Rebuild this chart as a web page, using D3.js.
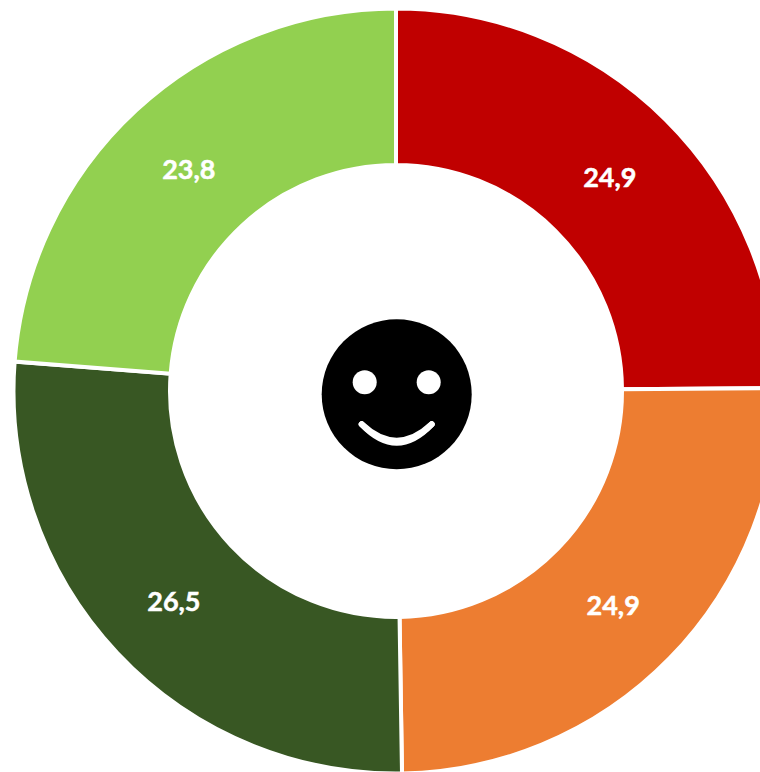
<!DOCTYPE html>
<html><head><meta charset="utf-8">
<script src="https://cdnjs.cloudflare.com/ajax/libs/d3/7.8.5/d3.min.js"></script>
<style>html,body{margin:0;padding:0;background:#fff;overflow:hidden}svg{display:block}</style>
</head><body><svg id="c" width="760" height="772"></svg>
<script>
const labels = ["24,9","24,9","26,5","23,8"];
const values = [24.9,24.9,26.5,23.8];
const colors = ["#C00000","#ED7D31","#385723","#92D050"];
const svg = d3.select("#c");
const cx=396, cy=391, ro=382.5, ri=226;
const g = svg.append("g").attr("transform",`translate(${cx},${cy})`);
const pie = d3.pie().sort(null).value(d=>d)(values);
const arc = d3.arc().innerRadius(ri).outerRadius(ro);
g.selectAll("path").data(pie).join("path")
 .attr("d",arc).attr("fill",(d,i)=>colors[i]).attr("stroke","#fff").attr("stroke-width",4);
g.selectAll("text").data(pie).join("text")
 .attr("transform",d=>{const c=arc.centroid(d);return `translate(${c[0]-0.5},${c[1]+1})`;})
 .attr("text-anchor","middle").attr("dominant-baseline","central")
 .attr("fill","#fff").attr("stroke","#fff").attr("stroke-width",0.5)
 .attr("font-family","Lato, sans-serif").attr("font-weight",700).attr("font-size",27)
 .text((d,i)=>labels[i]);
const f = svg.append("g").attr("transform",`translate(396.7,394.3)`);
f.append("circle").attr("r",75).attr("fill","#000");
f.append("circle").attr("cx",-32).attr("cy",-12).attr("r",12).attr("fill","#fff");
f.append("circle").attr("cx",32).attr("cy",-12).attr("r",12).attr("fill","#fff");
f.selectAll("path.smile").data([63,67]).join("path").attr("class","smile")
 .attr("d",d=>`M-35,30 Q0,${d} 35,30`)
 .attr("fill","none").attr("stroke","#fff").attr("stroke-width",6).attr("stroke-linecap","round");
</script></body></html>
